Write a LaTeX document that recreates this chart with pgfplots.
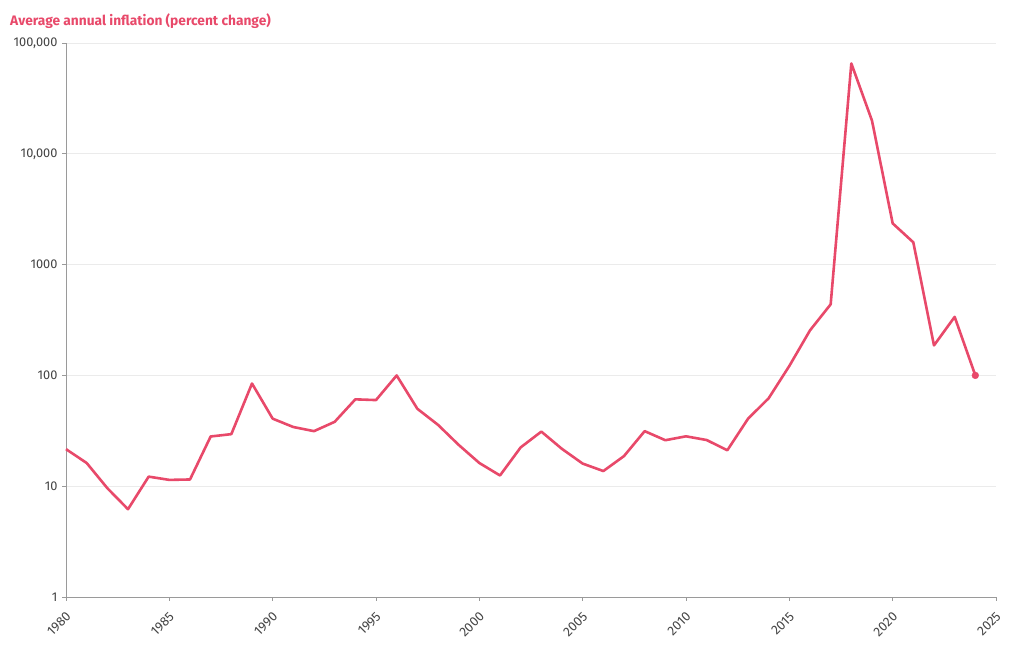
\documentclass[border=0pt]{standalone}
\usepackage{fontspec}
\setmainfont{Fira Sans}
\usepackage{pgfplots}
\pgfplotsset{compat=1.18}
\definecolor{infred}{HTML}{E8496A}
\definecolor{axgray}{HTML}{9A9A9A}
\definecolor{gridgray}{HTML}{EBEBEB}
\definecolor{lblgray}{HTML}{444444}
\begin{document}
\begin{tikzpicture}[x=1bp,y=1bp]
\path[use as bounding box] (-66bp,-53bp) rectangle (954bp,597bp);
\begin{axis}[
  at={(0,0)}, anchor=south west,
  scale only axis, width=930bp, height=554bp,
  xmin=1980, xmax=2025, ymin=1, ymax=100000,
  ymode=log,
  axis lines*=left,
  axis line style={axgray, line width=0.8bp},
  every tick/.style={axgray, line width=0.8bp},
  tick align=outside, major tick length=4bp,
  xtick={1980,1985,...,2025},
  xticklabels={1980,1985,1990,1995,2000,2005,2010,2015,2020,2025},
  ytick={1,10,100,1000,10000,100000},
  yticklabels={1,10,100,1000,{10,000},{100,000}},
  yminorticks=false, xminorticks=false,
  ymajorgrids, grid style={gridgray, line width=0.8bp},
  yticklabel style={font=\fontsize{12.8}{13}\selectfont, text=lblgray, xshift=-1bp},
  xticklabel style={font=\fontsize{13.2}{13}\selectfont, text=lblgray, xshift=5bp, yshift=-11bp, rotate=45, anchor=east},
  clip=false,
]
\addplot[infred, line width=2.6bp, line join=round] coordinates {
(1980,21.6) (1981,16.2) (1982,9.6) (1983,6.2) (1984,12.2) (1985,11.4)
(1986,11.5) (1987,28.1) (1988,29.5) (1989,84.5) (1990,40.7) (1991,34.2)
(1992,31.4) (1993,38.1) (1994,60.8) (1995,59.9) (1996,99.9) (1997,50.0)
(1998,35.8) (1999,23.6) (2000,16.2) (2001,12.5) (2002,22.4) (2003,31.1)
(2004,21.7) (2005,16.0) (2006,13.7) (2007,18.7) (2008,31.4) (2009,26.0)
(2010,28.2) (2011,26.1) (2012,21.1) (2013,40.6) (2014,62.2) (2015,121.7)
(2016,254.9) (2017,438.1) (2018,65374) (2019,19906) (2020,2355) (2021,1588)
(2022,186.5) (2023,337.5) (2024,100)
};
\addplot[only marks, mark=*, mark size=3.4bp, color=infred] coordinates {(2024,100)};
\end{axis}
\node[anchor=west, text=infred, font=\bfseries\fontsize{13.8}{14}\selectfont, inner sep=0pt] at (-56bp,576bp) {Average annual inflation (percent change)};
\end{tikzpicture}
\end{document}
